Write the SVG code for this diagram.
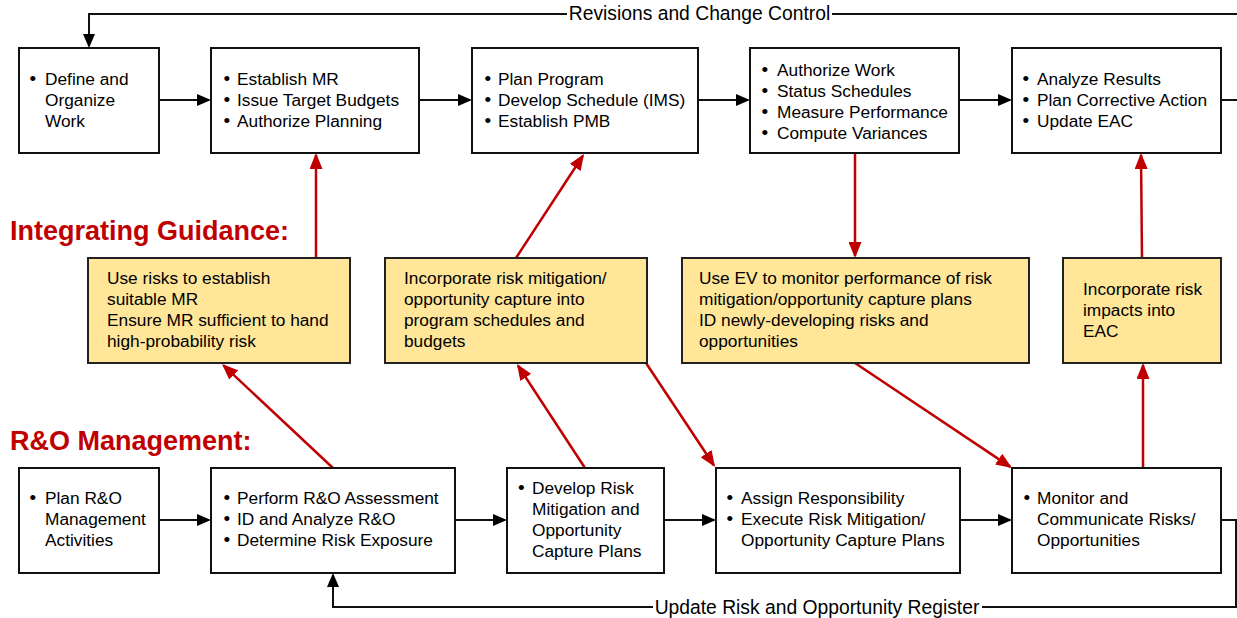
<svg xmlns="http://www.w3.org/2000/svg" width="1237" height="618" viewBox="0 0 1237 618">
<defs>
<style>
.box{fill:#fff;stroke:#111;stroke-width:2}
.ybox{fill:#FFE699;stroke:#222;stroke-width:2}
.t{font-family:"Liberation Sans",Arial,sans-serif;font-size:17.3px;fill:#000}
.b{font-size:19px}
.lbl{font-family:"Liberation Sans",Arial,sans-serif;font-size:19.3px;fill:#000}
.hd{font-family:"Liberation Sans",Arial,sans-serif;font-size:27px;font-weight:bold;fill:#C00000}
.blk{fill:none;stroke:#111;stroke-width:2}
.red{fill:none;stroke:#C00000;stroke-width:2.5}
</style>
<marker id="ab" viewBox="0 0 14 12" markerWidth="14" markerHeight="12" refX="12" refY="6" orient="auto" markerUnits="userSpaceOnUse"><path d="M0,0 L14,6 L0,12 z" fill="#000"/></marker>
<marker id="ar" viewBox="0 0 16 13" markerWidth="16" markerHeight="13" refX="14" refY="6.5" orient="auto" markerUnits="userSpaceOnUse"><path d="M0,0 L16,6.5 L0,13 z" fill="#C00000"/></marker>
</defs>
<rect width="1237" height="618" fill="#fff"/>

<text class="hd" x="10" y="240">Integrating Guidance:</text>
<text class="hd" x="10" y="450">R&amp;O Management:</text>

<g id="connectors">
<polyline class="blk" points="1237,14 89,14 89,46" marker-end="url(#ab)"/>
<rect x="567" y="3" width="265" height="22" fill="#fff"/>
<text class="lbl" x="699.5" y="20" text-anchor="middle">Revisions and Change Control</text>
<line class="blk" x1="159" y1="100" x2="209" y2="100" marker-end="url(#ab)"/>
<line class="blk" x1="419" y1="100" x2="470" y2="100" marker-end="url(#ab)"/>
<line class="blk" x1="698" y1="100" x2="748" y2="100" marker-end="url(#ab)"/>
<line class="blk" x1="959" y1="100" x2="1010" y2="100" marker-end="url(#ab)"/>
<line class="blk" x1="1221" y1="100" x2="1237" y2="100"/>
<line class="blk" x1="159" y1="520" x2="209" y2="520" marker-end="url(#ab)"/>
<line class="blk" x1="455" y1="520" x2="505" y2="520" marker-end="url(#ab)"/>
<line class="blk" x1="664" y1="520" x2="714" y2="520" marker-end="url(#ab)"/>
<line class="blk" x1="960" y1="520" x2="1010" y2="520" marker-end="url(#ab)"/>
<polyline class="blk" points="1221,520 1236,520 1236,607 333,607 333,575" marker-end="url(#ab)"/>
<rect x="653" y="596" width="329" height="22" fill="#fff"/>
<text class="lbl" x="817" y="613.5" text-anchor="middle">Update Risk and Opportunity Register</text>
<line class="red" x1="316" y1="258" x2="316" y2="155" marker-end="url(#ar)"/>
<line class="red" x1="333" y1="468" x2="223.5" y2="365.4" marker-end="url(#ar)"/>
<line class="red" x1="516" y1="258" x2="582.9" y2="155.7" marker-end="url(#ar)"/>
<line class="red" x1="585" y1="468" x2="518.1" y2="365.7" marker-end="url(#ar)"/>
<line class="red" x1="646" y1="363" x2="713.9" y2="465.3" marker-end="url(#ar)"/>
<line class="red" x1="855" y1="153" x2="855" y2="256" marker-end="url(#ar)"/>
<line class="red" x1="855" y1="363" x2="1010.3" y2="466.9" marker-end="url(#ar)"/>
<line class="red" x1="1143" y1="468" x2="1143" y2="365" marker-end="url(#ar)"/>
<line class="red" x1="1142" y1="258" x2="1141" y2="155" marker-end="url(#ar)"/>
</g>

<g id="define">
<rect class="box" x="19" y="48" width="140" height="105"/>
<text class="t"><tspan class="b" x="29.5" y="85">•</tspan><tspan x="45" y="85">Define and</tspan><tspan x="45" y="106">Organize</tspan><tspan x="45" y="127">Work</tspan></text>
</g>
<g id="establish">
<rect class="box" x="211" y="48" width="208" height="105"/>
<text class="t"><tspan class="b" x="223.5" y="85">•</tspan><tspan x="237" y="85">Establish MR</tspan><tspan class="b" x="223.5" y="106">•</tspan><tspan x="237" y="106">Issue Target Budgets</tspan><tspan class="b" x="223.5" y="127">•</tspan><tspan x="237" y="127">Authorize Planning</tspan></text>
</g>
<g id="plan">
<rect class="box" x="472" y="48" width="226" height="105"/>
<text class="t"><tspan class="b" x="484.5" y="85">•</tspan><tspan x="498" y="85">Plan Program</tspan><tspan class="b" x="484.5" y="106">•</tspan><tspan x="498" y="106">Develop Schedule (IMS)</tspan><tspan class="b" x="484.5" y="127">•</tspan><tspan x="498" y="127">Establish PMB</tspan></text>
</g>
<g id="authorize">
<rect class="box" x="750" y="48" width="209" height="105"/>
<text class="t"><tspan class="b" x="761.5" y="76">•</tspan><tspan x="777" y="76">Authorize Work</tspan><tspan class="b" x="761.5" y="97">•</tspan><tspan x="777" y="97">Status Schedules</tspan><tspan class="b" x="761.5" y="118">•</tspan><tspan x="777" y="118">Measure Performance</tspan><tspan class="b" x="761.5" y="139">•</tspan><tspan x="777" y="139">Compute Variances</tspan></text>
</g>
<g id="analyze">
<rect class="box" x="1012" y="48" width="209" height="105"/>
<text class="t"><tspan class="b" x="1022.5" y="85">•</tspan><tspan x="1037" y="85">Analyze Results</tspan><tspan class="b" x="1022.5" y="106">•</tspan><tspan x="1037" y="106">Plan Corrective Action</tspan><tspan class="b" x="1022.5" y="127">•</tspan><tspan x="1037" y="127">Update EAC</tspan></text>
</g>

<g id="g-mr">
<rect class="ybox" x="88" y="258" width="262" height="105"/>
<text class="t"><tspan x="107" y="284">Use risks to establish</tspan><tspan x="107" y="305">suitable MR</tspan><tspan x="107" y="326">Ensure MR sufficient to hand</tspan><tspan x="107" y="347">high-probability risk</tspan></text>
</g>
<g id="g-sched">
<rect class="ybox" x="385" y="258" width="262" height="105"/>
<text class="t"><tspan x="404" y="284">Incorporate risk mitigation/</tspan><tspan x="404" y="305">opportunity capture into</tspan><tspan x="404" y="326">program schedules and</tspan><tspan x="404" y="347">budgets</tspan></text>
</g>
<g id="g-ev">
<rect class="ybox" x="682" y="258" width="347" height="105"/>
<text class="t"><tspan x="699" y="284">Use EV to monitor performance of risk</tspan><tspan x="699" y="305">mitigation/opportunity capture plans</tspan><tspan x="699" y="326">ID newly-developing risks and</tspan><tspan x="699" y="347">opportunities</tspan></text>
</g>
<g id="g-eac">
<rect class="ybox" x="1063" y="258" width="158" height="105"/>
<text class="t"><tspan x="1083" y="295">Incorporate risk</tspan><tspan x="1083" y="316">impacts into</tspan><tspan x="1083" y="337">EAC</tspan></text>
</g>

<g id="plan-ro">
<rect class="box" x="19" y="468" width="140" height="105"/>
<text class="t"><tspan class="b" x="29.5" y="504">•</tspan><tspan x="45" y="504">Plan R&amp;O</tspan><tspan x="45" y="525">Management</tspan><tspan x="45" y="546">Activities</tspan></text>
</g>
<g id="assess">
<rect class="box" x="211" y="468" width="244" height="105"/>
<text class="t"><tspan class="b" x="223.5" y="504">•</tspan><tspan x="237" y="504">Perform R&amp;O Assessment</tspan><tspan class="b" x="223.5" y="525">•</tspan><tspan x="237" y="525">ID and Analyze R&amp;O</tspan><tspan class="b" x="223.5" y="546">•</tspan><tspan x="237" y="546">Determine Risk Exposure</tspan></text>
</g>
<g id="develop">
<rect class="box" x="507" y="468" width="157" height="105"/>
<text class="t"><tspan class="b" x="518" y="494">•</tspan><tspan x="532" y="494">Develop Risk</tspan><tspan x="532" y="515">Mitigation and</tspan><tspan x="532" y="536">Opportunity</tspan><tspan x="532" y="557">Capture Plans</tspan></text>
</g>
<g id="assign">
<rect class="box" x="716" y="468" width="244" height="105"/>
<text class="t"><tspan class="b" x="726.5" y="504">•</tspan><tspan x="741" y="504">Assign Responsibility</tspan><tspan class="b" x="726.5" y="525">•</tspan><tspan x="741" y="525">Execute Risk Mitigation/</tspan><tspan x="741" y="546">Opportunity Capture Plans</tspan></text>
</g>
<g id="monitor">
<rect class="box" x="1012" y="468" width="209" height="105"/>
<text class="t"><tspan class="b" x="1023.5" y="504">•</tspan><tspan x="1037" y="504">Monitor and</tspan><tspan x="1037" y="525">Communicate Risks/</tspan><tspan x="1037" y="546">Opportunities</tspan></text>
</g>
</svg>
